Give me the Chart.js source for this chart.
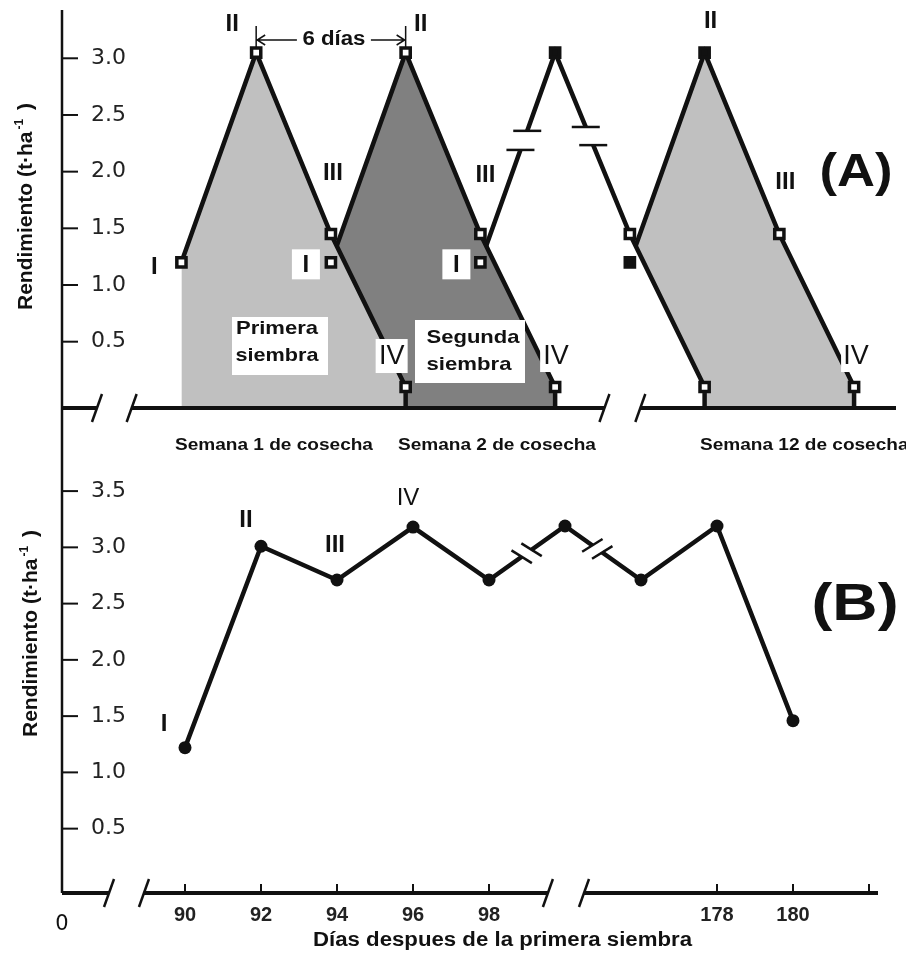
<!DOCTYPE html>
<html>
<head>
<meta charset="utf-8">
<title>Rendimiento por siembra escalonada</title>
<script src="https://cdn.jsdelivr.net/npm/chart.js@4.4.1/dist/chart.umd.min.js"></script>
<style>
  body { margin: 0; background: #fff; }
  #wrap { position: relative; width: 906px; height: 955px; }
  canvas { position: absolute; left: 0; display: block; }
  #chartA { top: 0; }
  #chartB { top: 455px; }
</style>
</head>
<body>
<div id="wrap">
  <canvas id="chartA" width="906" height="455"></canvas>
  <canvas id="chartB" width="906" height="500"></canvas>
</div>
<script>
// Panel A: x is the position along the harvest axis (one step per stage)
const estadios = ['I', 'II', 'III', 'IV'];
const siembra1X = [0, 1, 2, 3];
const siembra1Y = [1.2, 3.05, 1.45, 0.1];
const siembra2X = [2, 3, 4, 5];
const siembra2Y = [1.2, 3.05, 1.45, 0.1];
const siembra3X = [4, 5, 6, 7];
const siembra3Y = [1.2, 3.05, 1.45, 0.1];
const siembra4X = [6, 7, 8, 9];
const siembra4Y = [1.2, 3.05, 1.45, 0.1];
const yTicksA = [0.5, 1.0, 1.5, 2.0, 2.5, 3.0];
const semanas = ['Semana 1 de cosecha', 'Semana 2 de cosecha', 'Semana 12 de cosecha'];

// Panel B: x is the day position on the broken axis (178 -> 104, 180 -> 106)
const diasPos = [90, 92, 94, 96, 98, 100, 102, 104, 106];
const rendimientoB = [1.22, 3.01, 2.71, 3.18, 2.71, 3.19, 2.71, 3.19, 1.46];
const xTickPosB = [90, 92, 94, 96, 98, 104, 106, 108];
const xTickLabelsB = ['90', '92', '94', '96', '98', '178', '180', ''];
const yTicksB = [0.5, 1.0, 1.5, 2.0, 2.5, 3.0, 3.5];

const INK = '#111';
const SANS = '"Liberation Sans", Arial, sans-serif';
Chart.defaults.font.family = SANS;

function pts(xs, ys) {
  return xs.map((x, i) => ({ x: x, y: ys[i] }));
}

// text helper, optionally stretched horizontally to a given width
function txt(ctx, s, x, y, o) {
  ctx.save();
  ctx.font = o.font;
  ctx.fillStyle = o.color || INK;
  ctx.textBaseline = o.baseline || 'middle';
  ctx.textAlign = o.align || 'center';
  const w = ctx.measureText(s).width;
  const sx = o.width ? o.width / w : (o.sx || 1);
  ctx.translate(x, y);
  ctx.scale(sx, 1);
  ctx.fillText(s, 0, 0);
  ctx.restore();
}

function whiteBox(ctx, cx, cy, w, h) {
  ctx.save();
  ctx.fillStyle = '#fff';
  ctx.fillRect(cx - w / 2, cy - h / 2, w, h);
  ctx.restore();
}

function drawYAxis(chart, ticks, fromY, toY) {
  const ctx = chart.ctx;
  const left = chart.chartArea.left;
  ctx.save();
  ctx.strokeStyle = INK;
  ctx.lineWidth = 2.5;
  ctx.beginPath();
  ctx.moveTo(left, fromY);
  ctx.lineTo(left, toY);
  ctx.stroke();
  ctx.lineWidth = 2;
  ticks.forEach(v => {
    const py = chart.scales.y.getPixelForValue(v);
    ctx.beginPath();
    ctx.moveTo(left, py);
    ctx.lineTo(left + 16, py);
    ctx.stroke();
  });
  ctx.restore();
}

function slash(ctx, px, py) {
  ctx.save();
  ctx.strokeStyle = INK;
  ctx.lineWidth = 2.5;
  ctx.beginPath();
  ctx.moveTo(px - 5, py + 14);
  ctx.lineTo(px + 5, py - 14);
  ctx.stroke();
  ctx.restore();
}

function drawXAxis(chart, breaks) {
  const ctx = chart.ctx;
  const xs = chart.scales.x;
  const yb = chart.chartArea.bottom;
  let start = chart.chartArea.left;
  ctx.save();
  ctx.strokeStyle = INK;
  ctx.lineWidth = 4;
  breaks.forEach(b => {
    const pa = xs.getPixelForValue(b[0]);
    const pb = xs.getPixelForValue(b[1]);
    ctx.beginPath();
    ctx.moveTo(start, yb);
    ctx.lineTo(pa, yb);
    ctx.stroke();
    slash(ctx, pa, yb);
    slash(ctx, pb, yb);
    start = pb;
  });
  ctx.beginPath();
  ctx.moveTo(start, yb);
  ctx.lineTo(chart.chartArea.right, yb);
  ctx.stroke();
  ctx.restore();
}

// interrupt a line segment between t0 and t1 and draw the two break marks
function lineBreak(ctx, p0, p1, t0, t1, len, horizontal) {
  const ax = p0.x + (p1.x - p0.x) * t0, ay = p0.y + (p1.y - p0.y) * t0;
  const bx = p0.x + (p1.x - p0.x) * t1, by = p0.y + (p1.y - p0.y) * t1;
  ctx.save();
  ctx.strokeStyle = '#fff';
  ctx.lineWidth = 8;
  ctx.beginPath();
  ctx.moveTo(ax, ay);
  ctx.lineTo(bx, by);
  ctx.stroke();
  let dx = 1, dy = 0;
  if (!horizontal) {
    dx = 0.85;
    dy = p1.y < p0.y ? 0.53 : -0.53;
  }
  ctx.strokeStyle = INK;
  ctx.lineWidth = 2.5;
  [[ax, ay], [bx, by]].forEach(c => {
    ctx.beginPath();
    ctx.moveTo(c[0] - dx * len / 2, c[1] - dy * len / 2);
    ctx.lineTo(c[0] + dx * len / 2, c[1] + dy * len / 2);
    ctx.stroke();
  });
  ctx.restore();
}

function drawYTitle(ctx, x, y) {
  ctx.save();
  ctx.translate(x, y);
  ctx.rotate(-Math.PI / 2);
  ctx.fillStyle = INK;
  ctx.textAlign = 'left';
  ctx.textBaseline = 'alphabetic';
  ctx.font = 'bold 21px ' + SANS;
  const main = 'Rendimiento (t·ha';
  ctx.fillText(main, 0, 0);
  let w = ctx.measureText(main).width + 2;
  ctx.font = 'bold 12px ' + SANS;
  ctx.fillText('-1', w, -9);
  w += ctx.measureText('-1').width;
  ctx.font = 'bold 21px ' + SANS;
  ctx.fillText(' )', w + 3, 0);
  ctx.restore();
}

// y scale with labels inside the plot, no extra layout padding
function yScale(min, max, ticks) {
  return {
    type: 'linear', position: 'left', min: min, max: max,
    grid: { display: false, drawTicks: false },
    border: { display: false },
    ticks: {
      mirror: true, padding: 29, color: '#222',
      font: { family: '"DejaVu Sans", sans-serif', size: 22 },
      callback: v => v.toFixed(1)
    },
    afterBuildTicks: s => { s.ticks = ticks.map(v => ({ value: v })); },
    afterFit: s => { s.width = 0; s.paddingTop = 0; s.paddingBottom = 0; }
  };
}

// ---------- Panel A ----------
const siembras = [
  { xs: siembra1X, ys: siembra1Y, fill: '#c0c0c0', marks: ['#fff', '#fff', '#fff', '#fff'] },
  { xs: siembra2X, ys: siembra2Y, fill: '#808080', marks: ['#fff', '#fff', '#fff', '#fff'] },
  { xs: siembra3X, ys: siembra3Y, fill: '#ffffff', marks: ['#fff', INK, '#fff', '#fff'] },
  { xs: siembra4X, ys: siembra4Y, fill: '#c0c0c0', marks: [INK, INK, '#fff', '#fff'] }
];

// roman labels: [sowing, stage, dx, dy, bold, size, box]
const labelsA = [
  [0, 0, -27, 5, true, 24, null],
  [0, 1, -24, -28, true, 24, null],
  [0, 2, 2, -61, true, 24, null],
  [0, 3, -14, -30, false, 27, [32, 34]],
  [1, 0, -25, 3, true, 24, [28, 30]],
  [1, 1, 15, -28, true, 24, null],
  [1, 2, 5, -59, true, 24, null],
  [1, 3, 1, -30, false, 27, [32, 32]],
  [2, 0, -24, 3, true, 24, [28, 30]],
  [3, 1, 6, -31, true, 24, null],
  [3, 2, 6, -52, true, 24, null],
  [3, 3, 2, -30, false, 27, [30, 32]]
];

const decorA = {
  id: 'decorA',
  afterDatasetsDraw(chart) {
    const ctx = chart.ctx;
    const xs = chart.scales.x, ys = chart.scales.y;
    const area = chart.chartArea;

    drawYAxis(chart, yTicksA, area.top, chart.height);
    drawXAxis(chart, [[-1.13, -0.666], [5.66, 6.14]]);

    // stems from stage IV down to the axis
    ctx.save();
    ctx.strokeStyle = INK;
    ctx.lineWidth = 4.5;
    siembras.forEach(s => {
      const px = xs.getPixelForValue(s.xs[3]);
      const py = ys.getPixelForValue(s.ys[3]);
      ctx.beginPath();
      ctx.moveTo(px, py + 6);
      ctx.lineTo(px, area.bottom);
      ctx.stroke();
    });
    ctx.restore();

    // break marks on the third sowing
    const m3 = chart.getDatasetMeta(2).data;
    lineBreak(ctx, m3[0], m3[1], 0.536, 0.627, 28, true);
    lineBreak(ctx, m3[1], m3[2], 0.41, 0.51, 28, true);

    // stage labels
    labelsA.forEach(l => {
      const s = siembras[l[0]];
      const cx = xs.getPixelForValue(s.xs[l[1]]) + l[2];
      const cy = ys.getPixelForValue(s.ys[l[1]]) + l[3];
      if (l[6]) whiteBox(ctx, cx, cy - 1, l[6][0], l[6][1]);
      txt(ctx, estadios[l[1]], cx, cy, { font: (l[4] ? 'bold ' : '') + l[5] + 'px ' + SANS });
    });

    // sowing name boxes
    ctx.save();
    ctx.fillStyle = '#fff';
    ctx.fillRect(232, 317, 96, 58);
    ctx.fillRect(415, 320, 110, 63);
    ctx.restore();
    const f19 = 'bold 19px ' + SANS;
    txt(ctx, 'Primera', 277, 329, { font: f19, width: 82 });
    txt(ctx, 'siembra', 277, 356, { font: f19, width: 83 });
    txt(ctx, 'Segunda', 473, 338, { font: f19, width: 93 });
    txt(ctx, 'siembra', 469, 365, { font: f19, width: 85 });

    // "6 dias" arrow between the two peaks
    const xa = xs.getPixelForValue(siembra1X[1]);
    const xb = xs.getPixelForValue(siembra2X[1]);
    const ya = 40, mid = (xa + xb) / 2 + 3;
    ctx.save();
    ctx.strokeStyle = INK;
    ctx.lineWidth = 1.5;
    ctx.beginPath();
    ctx.moveTo(xa, 26); ctx.lineTo(xa, 48);
    ctx.moveTo(xb, 26); ctx.lineTo(xb, 48);
    ctx.moveTo(xa, ya); ctx.lineTo(mid - 37, ya);
    ctx.moveTo(mid + 37, ya); ctx.lineTo(xb, ya);
    ctx.moveTo(xa + 9, ya - 5); ctx.lineTo(xa + 1, ya); ctx.lineTo(xa + 9, ya + 5);
    ctx.moveTo(xb - 9, ya - 5); ctx.lineTo(xb - 1, ya); ctx.lineTo(xb - 9, ya + 5);
    ctx.stroke();
    ctx.restore();
    txt(ctx, '6 días', mid, 39, { font: 'bold 20px ' + SANS, width: 63 });

    // harvest week captions
    const f16 = 'bold 16px ' + SANS;
    txt(ctx, semanas[0], 274, 450, { font: f16, sx: 1.19, baseline: 'alphabetic' });
    txt(ctx, semanas[1], 497, 450, { font: f16, sx: 1.19, baseline: 'alphabetic' });
    txt(ctx, semanas[2], 700, 450, { font: f16, sx: 1.19, baseline: 'alphabetic', align: 'left' });

    txt(ctx, '(A)', 856, 173, { font: 'bold 46px ' + SANS, width: 73 });
    drawYTitle(ctx, 32, 310);
  }
};

const datasetsA = siembras.map((s, i) => ({
  data: pts(s.xs, s.ys),
  borderColor: INK,
  borderWidth: 4.5,
  borderJoinStyle: 'miter',
  pointRadius: 0,
  fill: 'start',
  backgroundColor: s.fill,
  order: i + 1
})).concat(siembras.map(s => ({
  data: pts(s.xs, s.ys),
  showLine: false,
  fill: false,
  pointStyle: 'rect',
  pointRadius: 6.5,
  pointBorderWidth: 3.5,
  pointBorderColor: INK,
  pointBackgroundColor: s.marks,
  order: 0
})));

new Chart(document.getElementById('chartA'), {
  type: 'line',
  data: { datasets: datasetsA },
  options: {
    responsive: false,
    animation: false,
    devicePixelRatio: 1,
    layout: { padding: { left: 62, right: 6, top: 10, bottom: 47 } },
    plugins: {
      legend: { display: false },
      tooltip: { enabled: false },
      filler: { drawTime: 'beforeDatasetDraw' }
    },
    scales: {
      x: { type: 'linear', min: -1.598, max: 9.561, display: false },
      y: yScale(-0.085, 3.426, yTicksA)
    }
  },
  plugins: [decorA]
});

// ---------- Panel B ----------
const labelOffsB = [[-21, -23], [-15, -26], [-2, -35], [-5, -29]];

const decorB = {
  id: 'decorB',
  afterDatasetsDraw(chart) {
    const ctx = chart.ctx;
    const xs = chart.scales.x;
    const area = chart.chartArea;

    drawYAxis(chart, yTicksB, 0, area.bottom);
    drawXAxis(chart, [[88.0, 88.92], [99.55, 100.5]]);

    // tick marks on the day axis
    ctx.save();
    ctx.strokeStyle = INK;
    ctx.lineWidth = 2;
    xTickPosB.forEach(v => {
      const px = xs.getPixelForValue(v);
      ctx.beginPath();
      ctx.moveTo(px, area.bottom);
      ctx.lineTo(px, area.bottom - 9);
      ctx.stroke();
    });
    ctx.restore();

    const pm = chart.getDatasetMeta(0).data;
    lineBreak(ctx, pm[4], pm[5], 0.43, 0.56, 24, false);
    lineBreak(ctx, pm[5], pm[6], 0.36, 0.49, 24, false);

    labelOffsB.forEach((o, i) => {
      txt(ctx, estadios[i], pm[i].x + o[0], pm[i].y + o[1],
        { font: (i < 3 ? 'bold ' : '') + '24px ' + SANS });
    });

    txt(ctx, '(B)', 855, 151, { font: 'bold 52px ' + SANS, width: 87 });
    txt(ctx, '0', 62, 470, { font: '21px "DejaVu Sans", sans-serif' });
    txt(ctx, 'Días despues de la primera siembra', 313, 491,
      { font: 'bold 20px ' + SANS, width: 379, align: 'left', baseline: 'alphabetic' });
    drawYTitle(ctx, 37, 282);
  }
};

new Chart(document.getElementById('chartB'), {
  type: 'line',
  data: {
    datasets: [{
      data: pts(diasPos, rendimientoB),
      borderColor: INK,
      borderWidth: 4.5,
      borderJoinStyle: 'miter',
      pointRadius: 6.5,
      pointBorderWidth: 0,
      pointBackgroundColor: INK,
      fill: false
    }]
  },
  options: {
    responsive: false,
    animation: false,
    devicePixelRatio: 1,
    layout: { padding: { left: 62, right: 28, top: 0, bottom: 0 } },
    plugins: {
      legend: { display: false },
      tooltip: { enabled: false }
    },
    scales: {
      x: {
        type: 'linear', position: 'bottom', min: 86.763, max: 108.237,
        grid: { display: false, drawTicks: false },
        border: { display: false },
        ticks: {
          autoSkip: false, maxRotation: 0, padding: 10, color: '#222',
          font: { size: 20, weight: 'bold' },
          callback: v => {
            const i = xTickPosB.indexOf(v);
            return i < 0 ? '' : xTickLabelsB[i];
          }
        },
        afterBuildTicks: s => { s.ticks = xTickPosB.map(v => ({ value: v })); },
        afterFit: s => { s.height = 62; s.paddingLeft = 0; s.paddingRight = 0; }
      },
      y: yScale(-0.072, 3.763, yTicksB)
    }
  },
  plugins: [decorB]
});
</script>
</body>
</html>
